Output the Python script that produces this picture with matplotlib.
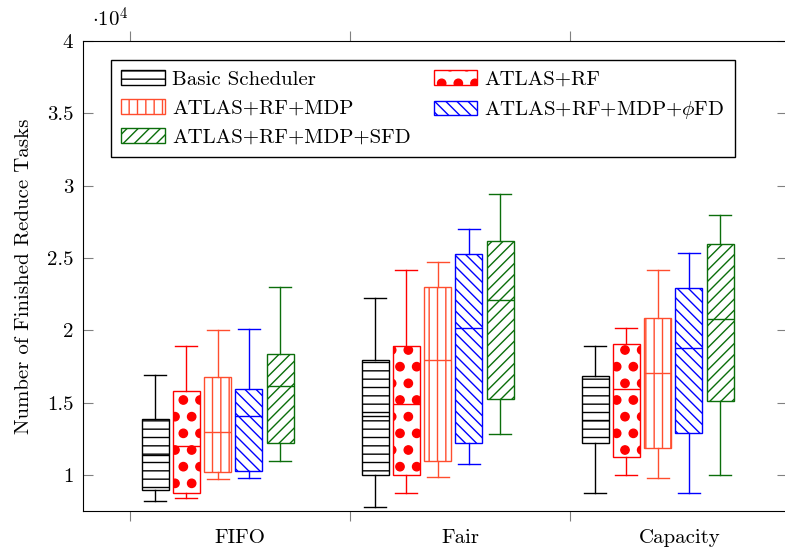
import numpy as np
import matplotlib
matplotlib.use('Agg')
import matplotlib.pyplot as plt
import matplotlib.hatch as mhatch
from matplotlib.patches import Patch
from matplotlib.ticker import FuncFormatter

plt.rcParams['font.family'] = 'cmr10'
plt.rcParams['mathtext.fontset'] = 'cm'
plt.rcParams['axes.formatter.use_mathtext'] = True
plt.rcParams['hatch.linewidth'] = 1.0
# bigger filled dots for the '.' hatch (pgfplots style)
mhatch.SmallFilledCircles.size = 0.25

#Data (values in units of 10^4)
schedulers = ['FIFO', 'Fair', 'Capacity']
methods = ['Basic Scheduler', 'ATLAS+RF', 'ATLAS+RF+MDP',
           r'ATLAS+RF+MDP+$\phi$FD', 'ATLAS+RF+MDP+SFD']

whis_lo = [[0.820, 0.779, 0.876],
           [0.840, 0.878, 0.998],
           [0.970, 0.988, 0.980],
           [0.980, 1.076, 0.873],
           [1.097, 1.283, 0.998]]
q1 = [[0.896, 0.998, 1.221],
      [0.878, 0.998, 1.122],
      [1.020, 1.097, 1.184],
      [1.028, 1.221, 1.290],
      [1.219, 1.523, 1.509]]
med = [[1.140, 1.410, 1.380],
       [1.200, 1.489, 1.592],
       [1.297, 1.793, 1.703],
       [1.410, 2.016, 1.880],
       [1.617, 2.208, 2.080]]
q3 = [[1.387, 1.793, 1.682],
      [1.580, 1.892, 1.903],
      [1.680, 2.302, 2.083],
      [1.597, 2.530, 2.295],
      [1.836, 2.620, 2.599]]
whis_hi = [[1.691, 2.221, 1.890],
           [1.892, 2.420, 2.014],
           [2.000, 2.472, 2.419],
           [2.010, 2.703, 2.535],
           [2.300, 2.940, 2.800]]

colors = ['black', 'red', '#FF4D2E', '#0000FF', '#0B6E0B']
hatches = ['--', '.', '||', '\\\\\\', '///']

fig = plt.figure(figsize=(7.85, 5.48), dpi=100)
ax = fig.add_axes([83/785, 37/548, 704/785, 470/548])

for i, m in enumerate(methods):
    stats = []
    for j in range(len(schedulers)):
        stats.append(dict(whislo=whis_lo[i][j], q1=q1[i][j], med=med[i][j],
                          q3=q3[i][j], whishi=whis_hi[i][j], fliers=[]))
    pos = [j + 0.398 + (i - 2) * 0.142 for j in range(len(schedulers))]
    c = colors[i]
    ax.bxp(stats, positions=pos, widths=0.123, capwidths=0.1,
           patch_artist=True, showfliers=False, manage_ticks=False,
           boxprops=dict(facecolor='none', edgecolor=c, hatch=hatches[i], lw=1),
           medianprops=dict(color=c, lw=1),
           whiskerprops=dict(color=c, lw=1),
           capprops=dict(color=c, lw=1))

ax.set_xlim(-0.2136, 2.986)
ax.set_ylim(0.751, 4.0)

ax.set_xticks([0, 1, 2])
ax.set_xticklabels([])
ax.set_xticks([0.5, 1.5, 2.5], minor=True)
ax.set_xticklabels(schedulers, minor=True)
ax.tick_params(axis='x', which='major', direction='out', length=7,
               top=True, color='gray')
ax.tick_params(axis='x', which='minor', length=0, pad=13, labelsize=15)
ax.set_yticks(np.arange(1, 4.01, 0.5))
ax.yaxis.set_major_formatter(FuncFormatter(lambda v, p: f'{v:g}'))
ax.tick_params(axis='y', direction='in', length=7, left=True, right=True,
               color='gray', pad=7, labelsize=15)

ax.set_ylabel('Number of Finished Reduce Tasks', fontsize=15, labelpad=10)
fig.text(92/785, 1 - 27/548, r'$\cdot 10^4$', fontsize=15, va='baseline')

handles = [Patch(facecolor='none', edgecolor=colors[i], hatch=hatches[i], lw=1)
           for i in range(5)]
order = [0, 2, 4, 1, 3]
leg = ax.legend([handles[k] for k in order], [methods[k] for k in order],
                ncol=2, loc='upper left', bbox_to_anchor=(0.0398, 0.9596),
                borderaxespad=0, fontsize=15, fancybox=False, framealpha=1,
                edgecolor='black', handlelength=2.1, handleheight=0.7,
                handletextpad=0.33, columnspacing=1.1, labelspacing=0.5,
                borderpad=0.5)
leg.get_frame().set_linewidth(1)

plt.savefig('out.png', dpi=100)
